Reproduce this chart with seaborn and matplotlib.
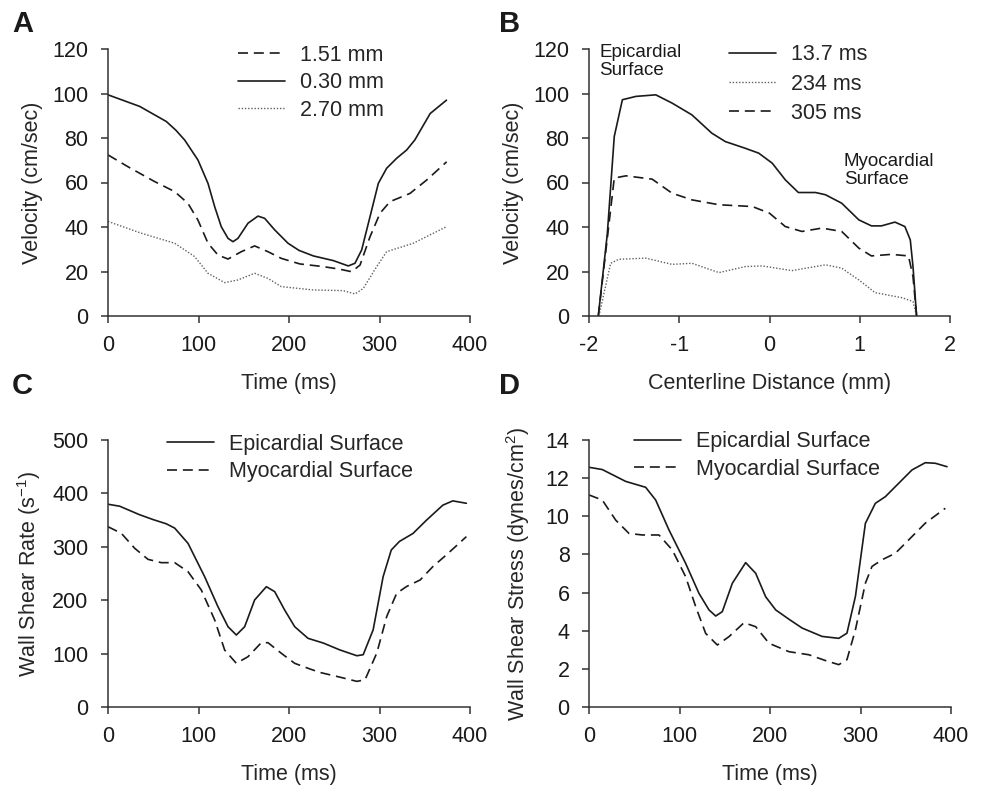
import numpy as np
import pandas as pd
import seaborn as sns
import matplotlib.pyplot as plt

# Panel A: velocity vs time at three depths
a_t_030 = [0, 35, 64.5, 75, 84.7, 99.4, 110.5, 117.9, 125.2, 132.6, 138.1, 143.6, 154.7, 165.7, 173.1, 184.2, 198.9, 211, 226.9, 249, 265.5, 272.9, 280.3, 289.5, 298.7, 307.9, 319, 330, 339, 356, 374]
a_v_030 = [99.4, 94.2, 87.4, 83.5, 79.1, 70.1, 59.6, 49.1, 40.1, 34.9, 33.4, 34.9, 41.7, 44.9, 43.9, 38.7, 32.7, 29.5, 27, 24.9, 22.5, 23.7, 29.7, 44.6, 59.6, 66.4, 70.9, 74.6, 79.1, 91, 97]
a_t_151 = [0, 22, 51.6, 73.7, 88.4, 99.4, 110.5, 121.5, 132.6, 147.3, 162, 176.8, 191.5, 212, 237.9, 256.4, 269.3, 278.5, 289.5, 300.6, 311.6, 333.7, 352.1, 374.2]
a_v_151 = [72.4, 67.1, 60.4, 55.9, 50.6, 43.1, 32.7, 27.4, 25.6, 28.9, 31.5, 28.9, 25.9, 23.4, 22.2, 21, 19.9, 22.9, 35.6, 46.2, 51.4, 55.1, 61.1, 69.3]
a_t_270 = [0, 36.8, 73.7, 95.7, 110.5, 128.9, 143.6, 162, 176.8, 191.5, 226.9, 260, 272.9, 282.1, 296.9, 307.9, 337.3, 370.4, 374]
a_v_270 = [42.5, 37.2, 32.7, 26.7, 19.2, 15, 16.2, 19.2, 16.9, 13.2, 11.7, 11.4, 9.9, 12.4, 22.2, 28.9, 32.7, 39.4, 40.2]

# Panel B: velocity profile across centerline at three times
b_x_137 = [-1.897, -1.797, -1.72, -1.63, -1.48, -1.26, -1.08, -0.86, -0.64, -0.49, -0.27, -0.12, 0.03, 0.175, 0.32, 0.51, 0.62, 0.80, 0.99, 1.13, 1.24, 1.39, 1.50, 1.56, 1.59, 1.63]
b_v_137 = [0, 37, 80.7, 97.2, 98.7, 99.4, 95.7, 90.4, 82.2, 78.4, 75.4, 73.2, 68.7, 61.2, 55.5, 55.5, 54.5, 50.7, 43.2, 40.5, 40.5, 42.2, 40.2, 34.2, 22.2, 0]
b_x_234 = [-1.89, -1.76, -1.67, -1.37, -1.08, -0.86, -0.56, -0.27, -0.08, 0.25, 0.62, 0.80, 0.99, 1.17, 1.47, 1.59, 1.63]
b_v_234 = [0, 23.7, 25.5, 26, 23.2, 23.7, 19.5, 22.2, 22.5, 20.4, 23, 21.5, 16.2, 10.5, 8.2, 6.5, 0]
b_x_305 = [-1.897, -1.72, -1.59, -1.30, -1.08, -0.86, -0.56, -0.19, 0.0, 0.175, 0.36, 0.58, 0.80, 0.99, 1.13, 1.35, 1.54, 1.59, 1.63]
b_v_305 = [0, 62, 63, 61.5, 55.2, 52.2, 50, 49.2, 46.2, 40.2, 38, 39.5, 38, 30.5, 27, 27.7, 27, 17.7, 0]

# Panel C: wall shear rate
c_t_epi = [0, 12.9, 35, 49.8, 64.5, 73.7, 88.4, 106.8, 121.5, 132.6, 141.8, 151, 162, 175, 184.2, 195.2, 206.3, 221, 238, 256, 275, 282, 293, 304, 313, 322, 337, 352, 370, 381, 396]
c_v_epi = [379.7, 376, 360, 351, 343, 335, 306.5, 244, 187.8, 150.4, 134.8, 150.4, 200.4, 225.3, 216, 181.6, 150.4, 128.6, 119.7, 107, 96, 97.9, 144.6, 244, 294, 310, 325, 350, 378, 386, 381.5]
c_t_myo = [0, 14.7, 29.5, 44.2, 58.9, 73.7, 88.4, 103.1, 117.9, 128.9, 141.8, 154.7, 169.4, 176.8, 191.5, 206.3, 221, 234, 256, 275, 284, 297, 308, 319, 330, 345, 359, 374, 396]
c_v_myo = [337.6, 325.3, 297.2, 276.5, 270.3, 270.3, 253.4, 219.1, 162.9, 106.7, 81.8, 94.2, 120.4, 120.4, 100.6, 81.8, 72.5, 64.8, 56, 48, 51, 101, 169.6, 213, 225.7, 238, 263, 285, 319]

# Panel D: wall shear stress
d_t_epi = [0, 14.7, 40.5, 62.6, 73.7, 88.4, 106.8, 121.5, 132.6, 140, 147.3, 158.4, 173.1, 184.2, 195.2, 206.3, 221, 235.5, 257.6, 276, 285, 294.4, 305.4, 316.4, 327.5, 342.2, 356.9, 371.6, 382.7, 395.6]
d_v_epi = [12.57, 12.45, 11.83, 11.52, 10.85, 9.28, 7.53, 5.96, 5.09, 4.77, 5.0, 6.49, 7.57, 7.01, 5.78, 5.09, 4.6, 4.14, 3.7, 3.6, 3.87, 5.8, 9.63, 10.68, 11.03, 11.73, 12.43, 12.81, 12.78, 12.6]
d_t_myo = [0, 14.7, 29.5, 44.2, 58.9, 77.3, 92.1, 106.8, 117.9, 128.9, 141.8, 154.7, 171.3, 184.2, 198.9, 221, 242.9, 261, 276, 285, 294.4, 305.4, 312.7, 323.8, 338.5, 353.2, 371.6, 393.7]
d_v_myo = [11.12, 10.85, 9.8, 9.1, 9.02, 9.02, 8.23, 6.83, 5.26, 3.86, 3.25, 3.69, 4.42, 4.21, 3.34, 2.9, 2.74, 2.44, 2.22, 2.48, 4.05, 6.49, 7.37, 7.72, 8.06, 8.76, 9.64, 10.42]

sns.set_style('ticks')
plt.rcParams['font.family'] = ['Liberation Sans', 'DejaVu Sans']
plt.rcParams['mathtext.default'] = 'regular'

INK = '#1a1a1a'
SOLID = dict(color=INK, lw=1.2, linestyle='-', solid_joinstyle='round')
DASH = dict(color=INK, lw=1.2, dashes=(6, 3.5), dash_joinstyle='round')
DOT = dict(color='#606060', lw=1.0, dashes=(1, 1.3))

fig = plt.figure(figsize=(9.84, 7.89), dpi=100)
W, H = 984, 789


def make_ax(l, r, t, b):
    return fig.add_axes([l / W, 1 - b / H, (r - l) / W, (b - t) / H])


axA = make_ax(108, 470, 49, 316)
axB = make_ax(589, 950, 49, 316)
axC = make_ax(108, 470, 440, 707)
axD = make_ax(589, 951, 440, 707)


def draw(ax, x, y, label, style):
    sns.lineplot(x=x, y=y, ax=ax, label=label, estimator=None, sort=False, **style)


draw(axA, a_t_151, a_v_151, '1.51 mm', DASH)
draw(axA, a_t_030, a_v_030, '0.30 mm', SOLID)
draw(axA, a_t_270, a_v_270, '2.70 mm', DOT)

draw(axB, b_x_137, b_v_137, '13.7 ms', SOLID)
draw(axB, b_x_234, b_v_234, '234 ms', DOT)
draw(axB, b_x_305, b_v_305, '305 ms', DASH)

draw(axC, c_t_epi, c_v_epi, 'Epicardial Surface', SOLID)
draw(axC, c_t_myo, c_v_myo, 'Myocardial Surface', DASH)

draw(axD, d_t_epi, d_v_epi, 'Epicardial Surface', SOLID)
draw(axD, d_t_myo, d_v_myo, 'Myocardial Surface', DASH)

FS = 15.5
for ax in (axA, axB, axC, axD):
    sns.despine(ax=ax)
    for s in ('left', 'bottom'):
        ax.spines[s].set_color('#333333')
        ax.spines[s].set_linewidth(1.1)
    ax.tick_params(direction='out', length=5, width=1.1, color='#333333',
                   labelsize=FS, labelcolor=INK, pad=9)

axA.set(xlim=(0, 400), ylim=(0, 120), xticks=range(0, 401, 100), yticks=range(0, 121, 20))
axB.set(xlim=(-2, 2), ylim=(0, 120), xticks=range(-2, 3), yticks=range(0, 121, 20))
axC.set(xlim=(0, 400), ylim=(0, 500), xticks=range(0, 401, 100), yticks=range(0, 501, 100))
axD.set(xlim=(0, 400), ylim=(0, 14), xticks=range(0, 401, 100), yticks=range(0, 15, 2))
axB.set_xticklabels(['-2', '-1', '0', '1', '2'])

axA.set_xlabel('Time (ms)', fontsize=FS, labelpad=12)
axA.set_ylabel('Velocity (cm/sec)', fontsize=FS, labelpad=7)
axB.set_xlabel('Centerline Distance (mm)', fontsize=FS, labelpad=12)
axB.set_ylabel('Velocity (cm/sec)', fontsize=FS, labelpad=7)
axC.set_xlabel('Time (ms)', fontsize=FS, labelpad=12)
axC.set_ylabel('Wall Shear Rate (s$^{-1}$)', fontsize=FS, labelpad=7)
axD.set_xlabel('Time (ms)', fontsize=FS, labelpad=12)
axD.set_ylabel('Wall Shear Stress (dynes/cm$^{2}$)', fontsize=FS, labelpad=10)

leg_kw = dict(loc='upper left', frameon=False, fontsize=FS, borderpad=0,
              handlelength=2.2, handletextpad=0.7, labelspacing=0.3, borderaxespad=0)
axA.legend(bbox_to_anchor=(0.359, 1.015), **leg_kw)
axB.legend(bbox_to_anchor=(0.388, 1.017), **dict(leg_kw, labelspacing=0.38))
axC.legend(bbox_to_anchor=(0.163, 1.024), **leg_kw)
axD.legend(bbox_to_anchor=(0.124, 1.032), **leg_kw)

axB.text(0.028, 1.02, 'Epicardial\nSurface', transform=axB.transAxes, ha='left', va='top',
         fontsize=13.5, color=INK, linespacing=1.1)
axB.text(0.706, 0.61, 'Myocardial\nSurface', transform=axB.transAxes, ha='left', va='top',
         fontsize=13.5, color=INK, linespacing=1.1)

for letter, x, y in (('A', 12, 10), ('B', 499, 10), ('C', 12, 372), ('D', 499, 372)):
    fig.text(x / W, 1 - y / H, letter, fontsize=21, fontweight='bold', ha='left', va='top', color=INK)

fig.savefig('out.png', dpi=100, facecolor='white')
